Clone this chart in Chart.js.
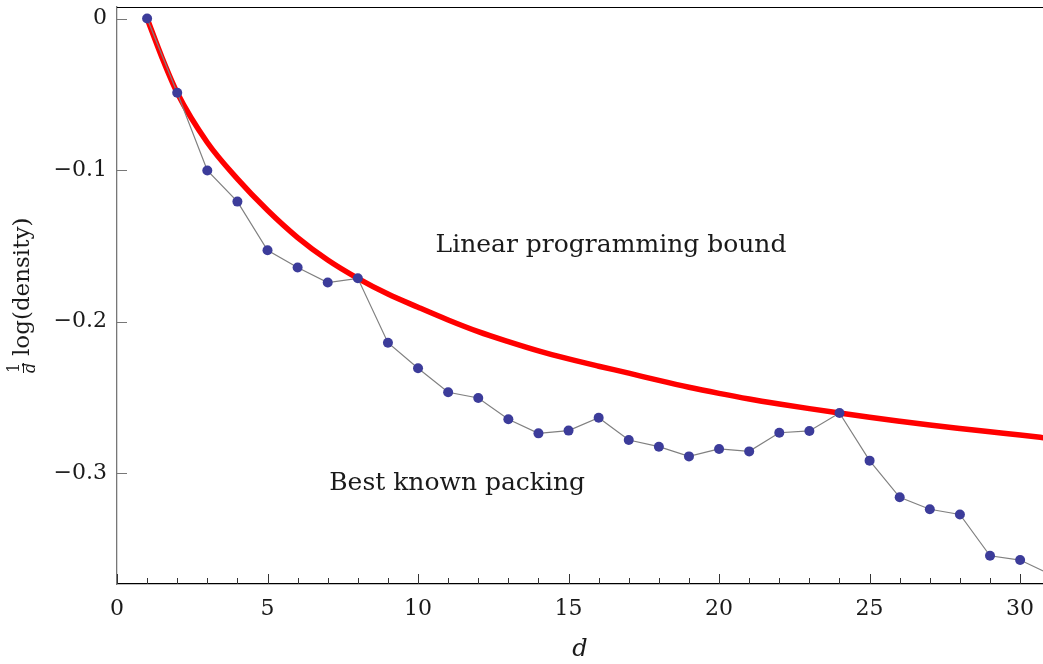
<!DOCTYPE html>
<html>
<head>
<meta charset="utf-8">
<script src="https://cdn.jsdelivr.net/npm/chart.js@4.4.1/dist/chart.umd.min.js"></script>
<style>
  html, body { margin: 0; padding: 0; background: #fff; }
  #wrap { width: 1043px; height: 664px; }
</style>
</head>
<body>
<div id="wrap"><canvas id="c" width="1043" height="664"></canvas></div>
<script>
// ---- data ----
const dims = [1,2,3,4,5,6,7,8,9,10,11,12,13,14,15,16,17,18,19,20,21,22,23,24,25,26,27,28,29,30,31];
const bestKnown = [0,-0.049,-0.1003,-0.1208,-0.1529,-0.1643,-0.1742,-0.1714,-0.2139,-0.2308,
  -0.2466,-0.2504,-0.2644,-0.2737,-0.2719,-0.2634,-0.2781,-0.2825,-0.2889,-0.2840,
  -0.2856,-0.2733,-0.2721,-0.2603,-0.2917,-0.3159,-0.3238,-0.3272,-0.3545,-0.3573,-0.3667];
const lpDims = [1,1.5,2,3,4,5,6,7,8,9,10,11,12,13,14,15,16,17,18,19,20,21,22,23,24,25,26,27,28,29,30,31];
const lpBound = [0,-0.026,-0.049,-0.0818,-0.1058,-0.1265,-0.1445,-0.1593,-0.1714,-0.1818,-0.1905,
  -0.1989,-0.2066,-0.2132,-0.2193,-0.2246,-0.2294,-0.2340,-0.2388,-0.2433,-0.2473,-0.2510,-0.2543,
  -0.2574,-0.2603,-0.2631,-0.2657,-0.2682,-0.2705,-0.2727,-0.2748,-0.2771];
const xTicks = [0,5,10,15,20,25,30];
const yTicks = [0,-0.1,-0.2,-0.3];
const labelLP = "Linear programming bound";
const labelBest = "Best known packing";
const xTitle = "d";

const SERIF = '"DejaVu Serif", "Liberation Serif", serif';

const bestPts = dims.map((d, i) => ({x: d, y: bestKnown[i]}));
const lpPts = lpDims.map((d, i) => ({x: d, y: lpBound[i]}));

const decorPlugin = {
  id: 'decor',
  afterDraw(chart) {
    const ctx = chart.ctx;
    const ca = chart.chartArea;
    const xs = chart.scales.x, ys = chart.scales.y;
    ctx.save();
    // top frame line
    ctx.strokeStyle = '#000';
    ctx.lineWidth = 1.2;
    ctx.beginPath();
    ctx.moveTo(ca.left, ca.top + 0.5);
    ctx.lineTo(ca.right, ca.top + 0.5);
    ctx.stroke();
    // x ticks (inward)
    ctx.strokeStyle = '#333';
    ctx.lineWidth = 1;
    for (let v = 0; v <= 30; v++) {
      const px = Math.round(xs.getPixelForValue(v)) + 0.5;
      const len = (v % 5 === 0) ? 10 : 6;
      ctx.beginPath();
      ctx.moveTo(px, ca.bottom);
      ctx.lineTo(px, ca.bottom - len);
      ctx.stroke();
    }
    // y ticks (inward)
    ctx.strokeStyle = '#777';
    yTicks.forEach(v => {
      const py = Math.round(ys.getPixelForValue(v)) + 0.5;
      ctx.beginPath();
      ctx.moveTo(ca.left, py);
      ctx.lineTo(ca.left + 10, py);
      ctx.stroke();
    });
    // annotations
    ctx.fillStyle = '#1a1a1a';
    ctx.textAlign = 'center';
    ctx.textBaseline = 'middle';
    ctx.font = '25px ' + SERIF;
    ctx.fillText(labelLP, xs.getPixelForValue(16.41), ys.getPixelForValue(-0.150));
    ctx.fillText(labelBest, xs.getPixelForValue(11.30), ys.getPixelForValue(-0.3065));
    // y-axis title: (1/d) log(density), rotated
    ctx.translate(23, 0);
    ctx.rotate(-Math.PI / 2);
    ctx.textAlign = 'left';
    ctx.textBaseline = 'middle';
    ctx.font = '23px ' + SERIF;
    const mainText = 'log(density)';
    const fracCenter = -368;
    ctx.fillText(mainText, fracCenter + 12, 0);
    ctx.font = '16px ' + SERIF;
    ctx.textAlign = 'center';
    ctx.fillText('1', fracCenter, -8);
    ctx.font = 'italic 16px ' + SERIF;
    ctx.fillText('d', fracCenter, 8);
    ctx.strokeStyle = '#1a1a1a';
    ctx.lineWidth = 1;
    ctx.beginPath();
    ctx.moveTo(fracCenter - 5, 0.5);
    ctx.lineTo(fracCenter + 5, 0.5);
    ctx.stroke();
    ctx.restore();
  }
};

new Chart(document.getElementById('c'), {
  type: 'scatter',
  data: {
    datasets: [
      {
        label: labelBest,
        data: bestPts,
        showLine: true,
        borderColor: '#808080',
        borderWidth: 1.2,
        pointRadius: 5,
        pointHoverRadius: 5,
        pointBackgroundColor: '#3c3c9a',
        pointBorderColor: '#3c3c9a',
        pointBorderWidth: 0,
        tension: 0
      },
      {
        label: labelLP,
        data: lpPts,
        showLine: true,
        borderColor: '#ff0000',
        borderWidth: 5.5,
        pointRadius: 0,
        cubicInterpolationMode: 'monotone'
      }
    ]
  },
  options: {
    responsive: false,
    devicePixelRatio: 1,
    animation: false,
    events: [],
    layout: { autoPadding: false, padding: { top: 7, right: 0, left: 0, bottom: 0 } },
    plugins: {
      legend: { display: false },
      tooltip: { enabled: false }
    },
    scales: {
      x: {
        type: 'linear',
        position: 'bottom',
        min: 0,
        max: 30.76,
        afterFit(scale) {
          scale.height = 80;
          scale.paddingLeft = 0; scale.paddingRight = 0;
        },
        afterBuildTicks(scale) { scale.ticks = xTicks.map(v => ({value: v})); },
        grid: { display: false, drawTicks: false },
        border: { display: true, color: '#000', width: 1.3 },
        ticks: {
          includeBounds: false,
          padding: 12,
          maxRotation: 0,
          color: '#1a1a1a',
          font: { family: SERIF, size: 22 },
          callback: v => String(v)
        },
        title: {
          display: true,
          text: xTitle,
          color: '#1a1a1a',
          font: { family: SERIF, size: 24, style: 'italic' },
          padding: { top: 8, bottom: 0 }
        }
      },
      y: {
        type: 'linear',
        min: -0.3731,
        max: 0.0076,
        afterFit(scale) {
          scale.width = 117;
          scale.paddingTop = 0; scale.paddingBottom = 0;
        },
        afterBuildTicks(scale) { scale.ticks = yTicks.map(v => ({value: v})); },
        grid: { display: false, drawTicks: false },
        border: { display: true, color: '#777', width: 1.3 },
        ticks: {
          includeBounds: false,
          padding: 10,
          color: '#1a1a1a',
          font: { family: SERIF, size: 22 },
          callback: v => (Math.abs(v) < 1e-9 ? '0' : '\u2212' + Math.abs(v).toFixed(1))
        }
      }
    }
  },
  plugins: [decorPlugin]
});
</script>
</body>
</html>
